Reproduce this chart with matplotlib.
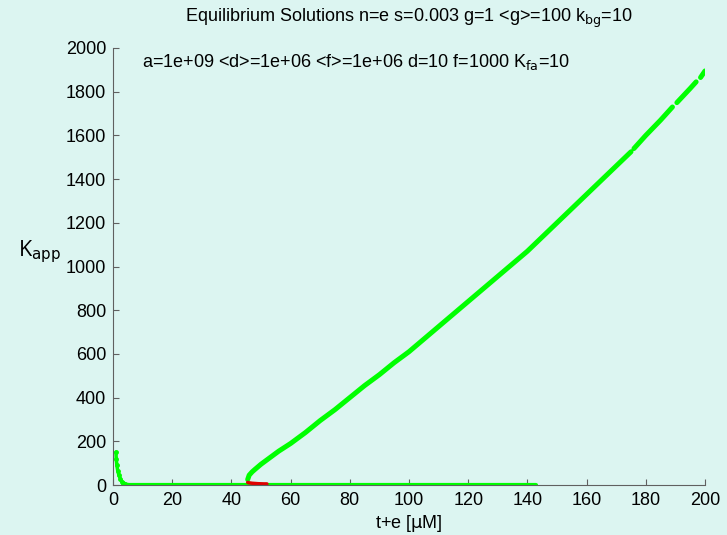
import matplotlib.pyplot as plt
import numpy as np

# -------------------------------
# Data
# -------------------------------
# upper green branch (NaN = gap in the dotted trace)
upper_x = [45.5, 46, 47, 48, 50, 53, 56, 60, 65, 70, 75, 80, 85, 90, 95, 100,
           110, 120, 130, 140, 150, 160, 170, 175, np.nan, 176, 180, 185, 189,
           np.nan, 190.5, 195, 197, np.nan, 198.5, 200]
upper_y = [25, 45, 60, 72, 95, 125, 155, 190, 240, 295, 345, 400, 455, 505, 560, 610,
           725, 840, 955, 1070, 1200, 1330, 1460, 1525, np.nan, 1540, 1600, 1670, 1730,
           np.nan, 1750, 1815, 1845, np.nan, 1865, 1895]

# left green branch near the axis
left_x = [1.0, 1.1, 1.3, 1.6, 2.0, 2.5, 3.0, 3.5, 4.0, 5.0, 6.0]
left_y = [150, 120, 90, 65, 45, 28, 16, 9, 5, 2, 0]

# lower green branch along zero
lower_x = [5, 45.5, 100, 143]
lower_y = [0, 0, 0, 0]

# red branch
red_x = [45.5, 46, 47, 49, 51, 52]
red_y = [12, 10, 8, 6, 5, 5]

bg = '#dcf5f1'
green = '#00ff00'
red = '#e00000'
axis_grey = '#606060'

plt.rcParams['font.family'] = ['Liberation Sans', 'DejaVu Sans']

fig = plt.figure(figsize=(7.27, 5.35), dpi=100, facecolor=bg)
ax = fig.add_axes([113 / 727, 50 / 535, 592 / 727, 437 / 535])
ax.set_facecolor(bg)

ax.plot(lower_x, lower_y, color=green, lw=3, solid_capstyle='round')
ax.plot(left_x, left_y, color=green, lw=2.5, marker='.', ms=5, solid_capstyle='round')
ax.plot(upper_x, upper_y, color=green, lw=3.6, solid_capstyle='round')
ax.plot(red_x, red_y, color=red, lw=2.5, solid_capstyle='round')

ax.set_xlim(0, 200)
ax.set_ylim(0, 2000)
ax.set_xticks(np.arange(0, 201, 20))
ax.set_yticks(np.arange(0, 2001, 200))
ax.tick_params(direction='in', length=4, labelsize=13, color=axis_grey, pad=5)
ax.spines['top'].set_visible(False)
ax.spines['right'].set_visible(False)
ax.spines['left'].set_color(axis_grey)
ax.spines['bottom'].set_color(axis_grey)

ax.set_xlabel(r't+e [$\mathrm{\mu}$M]', fontsize=13, labelpad=3)
fig.text(18 / 727, 1 - 252 / 535, r'K$_{\mathrm{app}}$', fontsize=15.5,
         family=['Open Sans', 'DejaVu Sans'], va='center', ha='left')

fig.text(409 / 727, 1 - 18 / 535,
         r'Equilibrium Solutions n=e s=0.003 g=1 <g>=100 k$_{\mathrm{bg}}$=10',
         fontsize=13, ha='center', va='center')
fig.text(142 / 727, 1 - 62 / 535,
         r'a=1e+09 <d>=1e+06 <f>=1e+06 d=10 f=1000 K$_{\mathrm{fa}}$=10',
         fontsize=13, ha='left', va='center')

fig.savefig('out.png', dpi=100, facecolor=bg)
